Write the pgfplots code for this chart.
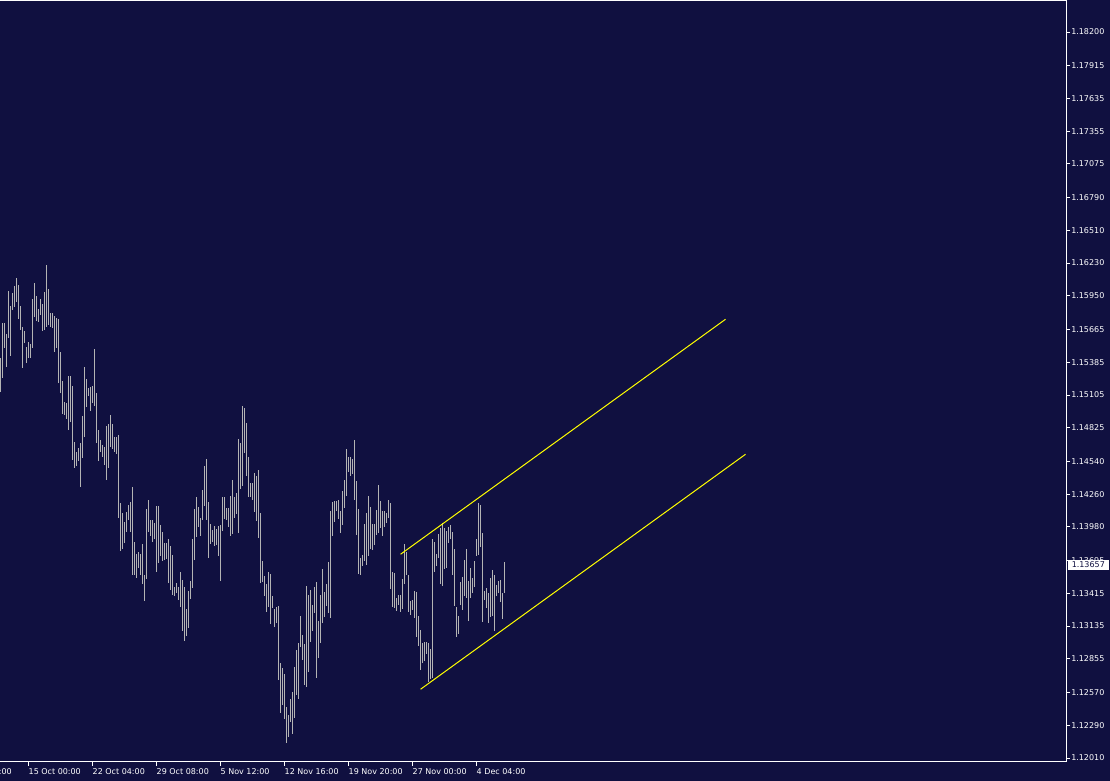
\documentclass[border=0pt]{standalone}
\usepackage{pgfplots}
\pgfplotsset{compat=1.18}
\usepackage{pgfplotstable}
\usepackage{fontspec}
\setmainfont{DejaVu Sans}

\definecolor{bg}{RGB}{16,16,64}
\definecolor{barcol}{RGB}{180,180,180}
\definecolor{chan}{RGB}{255,255,0}

% EURUSD H4 bars: bar index, high, low
\pgfplotstableread{
k hi lo
0 1.15421 1.15131
1 1.15719 1.15251
2 1.15719 1.15506
3 1.15626 1.15344
4 1.15991 1.15592
5 1.15864 1.15438
6 1.15974 1.15830
7 1.16034 1.15855
8 1.16102 1.15898
9 1.16042 1.15753
10 1.15864 1.15660
11 1.15685 1.15336
12 1.15651 1.15548
13 1.15514 1.15378
14 1.15557 1.15421
15 1.15540 1.15421
16 1.15923 1.15506
17 1.16059 1.15770
18 1.15949 1.15736
19 1.15838 1.15728
20 1.15923 1.15787
21 1.15881 1.15651
22 1.15983 1.15660
23 1.16213 1.15685
24 1.16008 1.15702
25 1.15804 1.15685
26 1.15804 1.15677
27 1.15779 1.15472
28 1.15762 1.15506
29 1.15753 1.15207
30 1.15472 1.15122
31 1.15224 1.14944
32 1.15046 1.14935
33 1.15037 1.14901
34 1.15268 1.14807
35 1.15268 1.14875
36 1.15182 1.14551
37 1.14705 1.14483
38 1.14620 1.14500
39 1.14654 1.14542
40 1.14696 1.14321
41 1.14927 1.14569
42 1.15344 1.14747
43 1.15242 1.15003
44 1.15165 1.15097
45 1.15173 1.14969
46 1.15182 1.15037
47 1.15497 1.15012
48 1.15122 1.14696
49 1.14807 1.14542
50 1.14722 1.14620
51 1.14679 1.14577
52 1.14662 1.14508
53 1.14841 1.14381
54 1.14858 1.14483
55 1.14935 1.14662
56 1.14858 1.14645
57 1.14747 1.14620
58 1.14747 1.14603
59 1.14764 1.14057
60 1.14184 1.13775
61 1.14099 1.13792
62 1.14023 1.13843
63 1.14108 1.13938
64 1.14167 1.14040
65 1.14193 1.13938
66 1.14321 1.13571
67 1.13852 1.13571
68 1.13750 1.13546
69 1.13767 1.13631
70 1.13750 1.13571
71 1.13835 1.13494
72 1.13571 1.13349
73 1.14133 1.13537
74 1.14210 1.13938
75 1.14040 1.13904
76 1.14040 1.13852
77 1.14014 1.13878
78 1.14159 1.13597
79 1.14159 1.13673
80 1.13997 1.13733
81 1.13938 1.13690
82 1.13843 1.13699
83 1.13843 1.13707
84 1.13878 1.13502
85 1.13818 1.13443
86 1.13741 1.13400
87 1.13468 1.13392
88 1.13502 1.13417
89 1.13468 1.13358
90 1.13597 1.13298
91 1.13528 1.13093
92 1.13468 1.13008
93 1.13281 1.13051
94 1.13434 1.13119
95 1.13519 1.13366
96 1.13878 1.13460
97 1.14133 1.13699
98 1.14236 1.13895
99 1.14150 1.13980
100 1.14057 1.13904
101 1.14296 1.14040
102 1.14500 1.14159
103 1.14560 1.14040
104 1.14193 1.13716
105 1.14006 1.13835
106 1.13955 1.13852
107 1.13989 1.13818
108 1.13963 1.13826
109 1.13989 1.13733
110 1.13997 1.13519
111 1.14236 1.13946
112 1.14236 1.14048
113 1.14142 1.14040
114 1.14142 1.13980
115 1.14245 1.13904
116 1.14381 1.13921
117 1.14236 1.14057
118 1.14270 1.14091
119 1.14730 1.13929
120 1.14696 1.14304
121 1.15012 1.14330
122 1.14995 1.14611
123 1.14866 1.14415
124 1.14577 1.14236
125 1.14355 1.14236
126 1.14355 1.14210
127 1.14440 1.14108
128 1.14415 1.14031
129 1.14466 1.13887
130 1.14099 1.13502
131 1.13690 1.13511
132 1.13563 1.13392
133 1.13494 1.13256
134 1.13597 1.13298
135 1.13580 1.13153
136 1.13392 1.13290
137 1.13281 1.13127
138 1.13298 1.13161
139 1.13307 1.12676
140 1.12820 1.12394
141 1.12778 1.12462
142 1.12727 1.12343
143 1.12445 1.12138
144 1.12377 1.12190
145 1.12514 1.12318
146 1.12574 1.12216
147 1.12786 1.12352
148 1.12932 1.12548
149 1.12991 1.12514
150 1.13222 1.12957
151 1.13059 1.12846
152 1.12983 1.12633
153 1.13477 1.12616
154 1.13400 1.12744
155 1.13443 1.13000
156 1.13315 1.13093
157 1.13468 1.13247
158 1.13511 1.12693
159 1.13178 1.12864
160 1.13400 1.12991
161 1.13622 1.13161
162 1.13426 1.13213
163 1.13494 1.13307
164 1.13682 1.13247
165 1.14116 1.13205
166 1.14193 1.13904
167 1.14201 1.14023
168 1.14201 1.14116
169 1.14210 1.14048
170 1.14116 1.13929
171 1.14287 1.13997
172 1.14381 1.14142
173 1.14645 1.14245
174 1.14577 1.14449
175 1.14577 1.14415
176 1.14560 1.14432
177 1.14722 1.14210
178 1.14372 1.13912
179 1.14133 1.13580
180 1.13716 1.13571
181 1.13741 1.13648
182 1.14006 1.13690
183 1.14099 1.13656
184 1.14245 1.13733
185 1.14150 1.13792
186 1.14006 1.13784
187 1.14006 1.13826
188 1.14125 1.13912
189 1.14338 1.13929
190 1.14201 1.13972
191 1.14116 1.13904
192 1.14116 1.13980
193 1.14099 1.14014
194 1.14210 1.14057
195 1.14184 1.13451
196 1.13597 1.13298
197 1.13588 1.13290
198 1.13375 1.13264
199 1.13400 1.13315
200 1.13400 1.13256
201 1.13537 1.13281
202 1.13835 1.13494
203 1.13767 1.13571
204 1.13571 1.13256
205 1.13349 1.13230
206 1.13358 1.13273
207 1.13434 1.13205
208 1.13426 1.13042
209 1.13222 1.12966
210 1.13102 1.12761
211 1.12991 1.12820
212 1.13000 1.12837
213 1.13000 1.12898
214 1.12991 1.12659
215 1.12940 1.12684
216 1.13878 1.12693
217 1.13852 1.13597
218 1.13750 1.13648
219 1.13921 1.13716
220 1.13972 1.13494
221 1.14014 1.13477
222 1.13972 1.13622
223 1.13946 1.13631
224 1.13980 1.13843
225 1.13997 1.13878
226 1.13938 1.13571
227 1.13792 1.13307
228 1.13298 1.13042
229 1.13222 1.13068
230 1.13511 1.13315
231 1.13554 1.13273
232 1.13699 1.13392
233 1.13792 1.13375
234 1.13519 1.13178
235 1.13631 1.13375
236 1.13546 1.13417
237 1.13690 1.13468
238 1.13878 1.13733
239 1.14184 1.13741
240 1.14167 1.13809
241 1.13929 1.13170
242 1.13434 1.13358
243 1.13460 1.13290
244 1.13417 1.13161
245 1.13546 1.13213
246 1.13614 1.13222
247 1.13571 1.13093
248 1.13485 1.13392
249 1.13519 1.13417
250 1.13528 1.13341
251 1.13417 1.13196
252 1.13682 1.13417
}\bars

\begin{document}
\begin{tikzpicture}[x=1bp,y=1bp]
\fill[bg] (0,0) rectangle (1110,781);
\useasboundingbox (0,0) rectangle (1110,781);
\clip (0,0) rectangle (1110,781);
\begin{axis}[
    at={(-1bp,19bp)}, anchor=south west,
    scale only axis,
    width=1067bp, height=761.5bp,
    xmin=-0.75, xmax=532.75,
    ymin=1.11976, ymax=1.18469,
    axis background/.style={fill=bg},
    axis line style={white, line width=1bp},
    tick style={white, line width=1bp},
    major tick length=4bp,
    tick align=outside,
    xtick pos=bottom, ytick pos=right,
    yticklabel pos=right,
    xtick={14,46,78,110,142,174,206,238},
    xticklabels={15 Oct 00:00,22 Oct 04:00,29 Oct 08:00,5 Nov 12:00,12 Nov 16:00,19 Nov 20:00,27 Nov 00:00,4 Dec 04:00},
    ytick={1.12010,1.12290,1.12570,1.12855,1.13135,1.13415,1.13695,1.13980,1.14260,1.14540,1.14825,1.15105,1.15385,1.15665,1.15950,1.16230,1.16510,1.16790,1.17075,1.17355,1.17635,1.17915,1.18200},
    yticklabels={1.12010,1.12290,1.12570,1.12855,1.13135,1.13415,1.13695,1.13980,1.14260,1.14540,1.14825,1.15105,1.15385,1.15665,1.15950,1.16230,1.16510,1.16790,1.17075,1.17355,1.17635,1.17915,1.18200},
    tick label style={font=\fontsize{8bp}{9.6bp}\selectfont, text=white},
    xticklabel style={anchor=north west, inner sep=0pt, yshift=-2.5bp},
    yticklabel style={anchor=west, inner sep=0pt, xshift=1bp},
    scaled y ticks=false,
    clip=true,
]
\addplot[draw=none, mark=none, forget plot,
    error bars/.cd, y dir=plus, y explicit, error mark=none,
    error bar style={draw=barcol, solid, line width=1bp}]
    table[x=k, y=lo, y error expr=\thisrow{hi}-\thisrow{lo}] {\bars};
\addplot[chan, line width=1bp] coordinates {(200,1.13747) (362.5,1.15751)};
\addplot[chan, line width=1bp] coordinates {(210,1.12596) (372.5,1.14600)};
\coordinate (last) at (axis cs:532.75,1.13657);
\coordinate (t0) at (axis cs:-18,1.11976);
\end{axis}
\node[anchor=north west, inner sep=0pt, yshift=-6.5bp, text=white, font=\fontsize{8bp}{9.6bp}\selectfont] at (t0) {7 Oct 20:00};
\node[anchor=west, fill=white, text=bg, inner xsep=4bp, inner ysep=1bp, minimum height=10bp, font=\fontsize{8bp}{9.6bp}\selectfont, xshift=1.5bp] at (last) {1.13657};
\end{tikzpicture}
\end{document}
